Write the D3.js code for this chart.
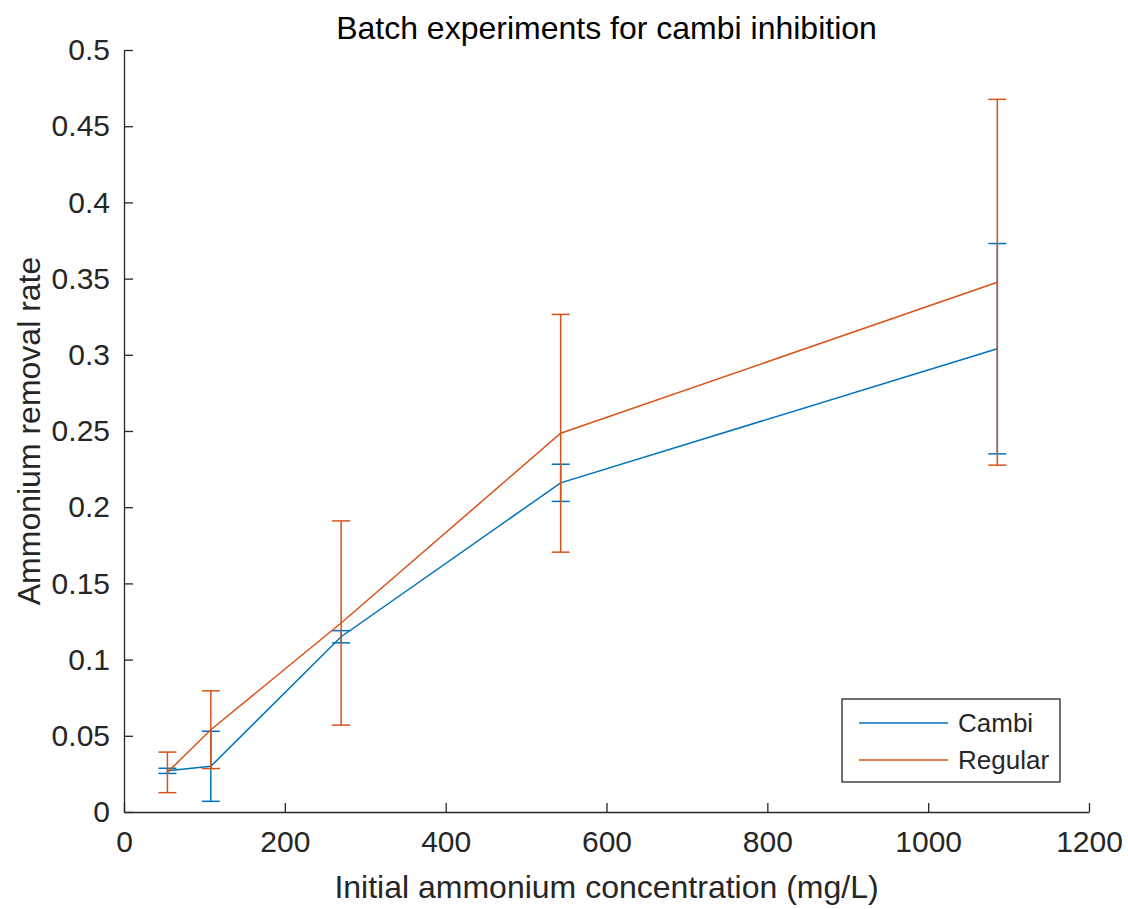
<!DOCTYPE html>
<html>
<head>
<meta charset="utf-8">
<script src="https://d3js.org/d3.v7.min.js"></script>
<style>
  body { margin: 0; background: #fff; }
  text { font-family: "Liberation Sans", Arial, sans-serif; fill: #262626; }
  .axis path, .axis line { stroke: #262626; stroke-width: 1.3; }
  .axis text { font-size: 30px; fill: #262626; }
</style>
</head>
<body>
<script>
// concentrations (mg/L)
var conc = [54, 108, 270, 543, 1086];
var cambi = [0.027, 0.030, 0.115, 0.216, 0.304];
var cambiErr = [0.0017, 0.023, 0.004, 0.0122, 0.069];
var regular = [0.026, 0.054, 0.124, 0.2485, 0.3476];
var regularErr = [0.0133, 0.0255, 0.067, 0.078, 0.120];
var xTicks = [0, 200, 400, 600, 800, 1000, 1200];
var yTicks = [0, 0.05, 0.1, 0.15, 0.2, 0.25, 0.3, 0.35, 0.4, 0.45, 0.5];
var seriesNames = ['Cambi', 'Regular'];
var seriesColors = ['#0072BD', '#D95319'];

var w = 1128, h = 909;
var margin = {left: 124, right: 39, top: 50, bottom: 97};

var svg = d3.select('body').append('svg')
  .attr('width', w)
  .attr('height', h);

var x = d3.scaleLinear().domain([0, 1200]).range([margin.left, w - margin.right]);
var y = d3.scaleLinear().domain([0, 0.5]).range([h - margin.bottom, margin.top]);

// axes, ticks pointing inwards like matlab
svg.append('g')
  .attr('class', 'axis')
  .attr('transform', 'translate(0,' + y(0) + ')')
  .call(d3.axisBottom(x).tickValues(xTicks).tickSize(-9).tickPadding(19).tickSizeOuter(0)
    .tickFormat(d3.format('d')));

svg.append('g')
  .attr('class', 'axis')
  .attr('transform', 'translate(' + x(0) + ',0)')
  .call(d3.axisLeft(y).tickValues(yTicks).tickSize(-9).tickPadding(14).tickSizeOuter(0)
    .tickFormat(function(d) { return String(+d.toFixed(2)); }));

var series = seriesNames.map(function(n, i) {
  return {name: n, vals: i ? regular : cambi, err: i ? regularErr : cambiErr, color: seriesColors[i]};
});

var line = d3.line()
  .x(function(d) { return x(d.x); })
  .y(function(d) { return y(d.y); });

var capW = 9;

series.forEach(function(s) {
  var pts = conc.map(function(c, i) { return {x: c, y: s.vals[i], e: s.err[i]}; });
  var g = svg.append('g');

  g.append('path')
    .datum(pts)
    .attr('d', line)
    .attr('fill', 'none')
    .attr('stroke', s.color)
    .attr('stroke-width', 1.5);

  // error bars
  var eb = g.selectAll('.eb').data(pts).enter().append('g');
  eb.append('line')
    .attr('x1', function(d) { return x(d.x); })
    .attr('x2', function(d) { return x(d.x); })
    .attr('y1', function(d) { return y(d.y - d.e); })
    .attr('y2', function(d) { return y(d.y + d.e); })
    .attr('stroke', s.color).attr('stroke-width', 1.5);
  eb.append('line')
    .attr('x1', function(d) { return x(d.x) - capW; })
    .attr('x2', function(d) { return x(d.x) + capW; })
    .attr('y1', function(d) { return y(d.y + d.e); })
    .attr('y2', function(d) { return y(d.y + d.e); })
    .attr('stroke', s.color).attr('stroke-width', 1.5);
  eb.append('line')
    .attr('x1', function(d) { return x(d.x) - capW; })
    .attr('x2', function(d) { return x(d.x) + capW; })
    .attr('y1', function(d) { return y(d.y - d.e); })
    .attr('y2', function(d) { return y(d.y - d.e); })
    .attr('stroke', s.color).attr('stroke-width', 1.5);
});

// title and labels
svg.append('text')
  .attr('x', (x(0) + x(1200)) / 2)
  .attr('y', 39)
  .attr('text-anchor', 'middle')
  .style('font-size', '32px')
  .style('fill', '#000')
  .text('Batch experiments for cambi inhibition');

svg.append('text')
  .attr('x', (x(0) + x(1200)) / 2)
  .attr('y', 898)
  .attr('text-anchor', 'middle')
  .style('font-size', '32px')
  .text('Initial ammonium concentration (mg/L)');

svg.append('text')
  .attr('transform', 'translate(40,' + (y(0) + y(0.5)) / 2 + ') rotate(-90)')
  .attr('text-anchor', 'middle')
  .style('font-size', '32px')
  .text('Ammonium removal rate');

// legend
var lg = svg.append('g').attr('transform', 'translate(842,699)');
lg.append('rect')
  .attr('width', 218).attr('height', 83)
  .attr('fill', '#fff').attr('stroke', '#262626').attr('stroke-width', 1.3);
series.forEach(function(s, i) {
  var yy = 24 + i * 37;
  lg.append('line')
    .attr('x1', 17).attr('x2', 106)
    .attr('y1', yy).attr('y2', yy)
    .attr('stroke', s.color).attr('stroke-width', 1.5);
  lg.append('text')
    .attr('x', 116).attr('y', yy)
    .attr('dy', '0.35em')
    .style('font-size', '26px')
    .text(s.name);
});
</script>
</body>
</html>
